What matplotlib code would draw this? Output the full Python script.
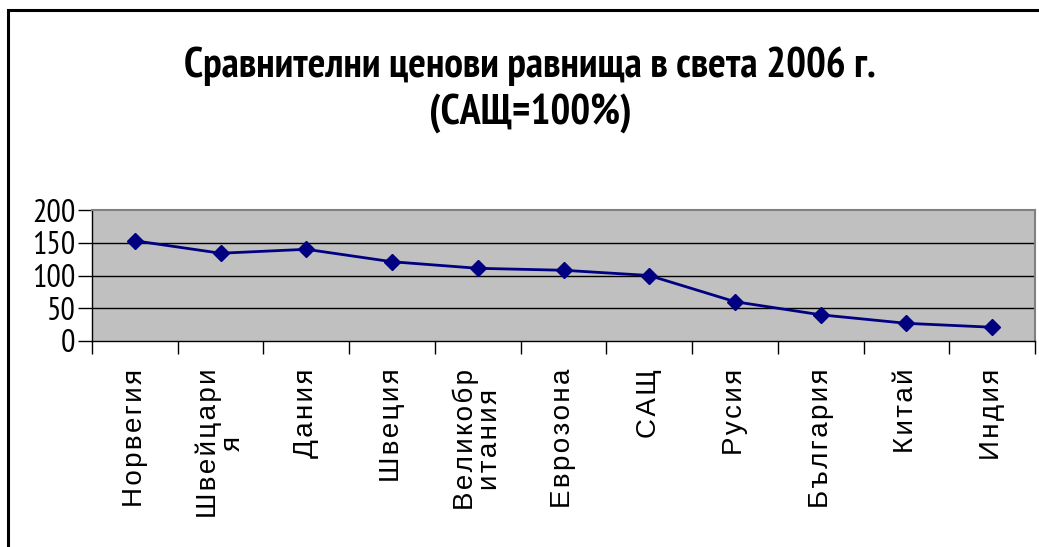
import matplotlib
matplotlib.use("Agg")
import matplotlib.pyplot as plt
from matplotlib.patches import Rectangle
from matplotlib import font_manager as fm

categories = ["Норвегия", "Швейцари\nя", "Дания", "Швеция", "Великобр\nитания",
              "Еврозона", "САЩ", "Русия", "България", "Китай", "Индия"]
values = [153, 134, 140, 121, 111, 108, 100, 60, 40, 27, 21]
yticks = [0, 50, 100, 150, 200]
title1 = "Сравнителни ценови равнища в света 2006 г."
title2 = "(САЩ=100%)"

names = {f.name for f in fm.fontManager.ttflist}
prefs = ["Liberation Sans Narrow", "Arial Narrow", "PT Sans Narrow", "Roboto Condensed",
         "Archivo Narrow", "Fira Sans Condensed", "IBM Plex Sans Condensed",
         "Open Sans Condensed", "Sofia Sans Condensed"]
chosen = next((n for n in prefs if n in names), None)
if chosen:
    NARROW = [chosen, "DejaVu Sans"]
    STRETCH = "normal"
else:
    NARROW = ["DejaVu Sans"]
    STRETCH = "condensed"
REG = ["Liberation Sans", "DejaVu Sans"]

def spaced(s):
    return "\n".join("\u200a".join(line) for line in s.split("\n"))

W, H = 1039, 547
fig = plt.figure(figsize=(W / 100, H / 100), dpi=100)
fig.patch.set_facecolor("white")
fig.patches.append(Rectangle((8 / W, -0.1), 2, 1 - 10 / H + 0.1, transform=fig.transFigure,
                             fill=False, edgecolor="black", linewidth=2.2))

ax = fig.add_axes([92 / W, 1 - 341 / H, (1035 - 92) / W, (341 - 210) / H])
ax.set_facecolor("#C0C0C0")
x = list(range(len(categories)))
ax.plot(x, values, color="#000080", linewidth=2, marker="D", markersize=8,
        markerfacecolor="#000080", markeredgecolor="#000080", zorder=3)
ax.set_xlim(-0.5, len(categories) - 0.5)
ax.set_ylim(0, 200)
ax.set_yticks(yticks)
ax.set_yticklabels([str(v) for v in yticks], family=NARROW, fontstretch=STRETCH, fontsize=23)
for v in yticks[1:-1]:
    ax.axhline(v, color="black", linewidth=1, zorder=1)
ax.tick_params(axis="y", length=10, width=1, color="black", pad=2)
ax.set_xticks(x)
ax.set_xticklabels([spaced(c) for c in categories], rotation=90, family=REG, fontsize=20,
                   ha="center", va="top", linespacing=0.9)
ax.tick_params(axis="x", which="major", length=0, pad=20)
ax.set_xticks([i - 0.5 for i in range(len(categories) + 1)], minor=True)
ax.tick_params(axis="x", which="minor", length=9, width=1, color="black")
for s in ["top", "right"]:
    ax.spines[s].set_color("#808080")
    ax.spines[s].set_linewidth(1.5)
for s in ["left", "bottom"]:
    ax.spines[s].set_color("black")
    ax.spines[s].set_linewidth(1)

t1 = fig.text(530 / W, 1 - 66 / H, title1, ha="center", va="center", family=NARROW,
              fontstretch=STRETCH, fontweight="bold", fontsize=28)
t2 = fig.text(530 / W, 1 - 113 / H, title2, ha="center", va="center", family=NARROW,
              fontstretch=STRETCH, fontweight="bold", fontsize=28)

# fit title width to the reference (~710 px)
renderer = fig.canvas.get_renderer()
w = t1.get_window_extent(renderer).width
fs = min(28 * 710 / w, 30)
t1.set_fontsize(fs)
t2.set_fontsize(fs)

fig.savefig("out.png", dpi=100)
